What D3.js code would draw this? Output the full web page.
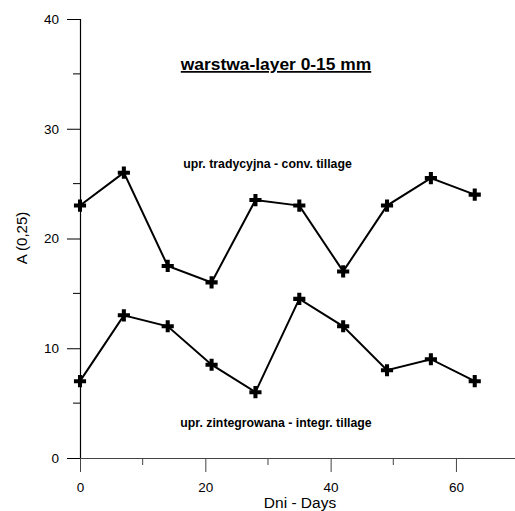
<!DOCTYPE html>
<html lang="en">
<head>
<meta charset="UTF-8">
<title>warstwa-layer 0-15 mm</title>
<script src="https://d3js.org/d3.v7.min.js"></script>
<style>
    body { margin: 0; background: #fff; }
    svg text { font-family: "Liberation Sans", Arial, sans-serif; fill: #000; }
</style>
</head>
<body>
<svg width="515" height="511"></svg>
<script>
// days of sampling
const days = [0, 7, 14, 21, 28, 35, 42, 49, 56, 63];
// upr. tradycyjna - conv. tillage
const convTillage = [23, 26, 17.5, 16, 23.5, 23, 17, 23, 25.5, 24];
// upr. zintegrowana - integr. tillage
const integrTillage = [7, 13, 12, 8.5, 6, 14.5, 12, 8, 9, 7];
const xTicks = [0, 20, 40, 60];
const xMinor = [10, 30, 50];
const yTicks = [0, 10, 20, 30, 40];
const yMinor = [5, 15, 25, 35];

const svg = d3.select('svg');

const x = d3.scaleLinear().domain([0, 70]).range([80, 518.6]);
const y = d3.scaleLinear().domain([0, 40]).range([458, 19]);

// y axis
const yAxis = svg.append('g').attr('transform', 'translate(80,0)');
yAxis.call(d3.axisLeft(y).tickValues(yTicks).tickSize(13).tickPadding(8).tickFormat(d3.format('d')));
yAxis.select('.domain').attr('stroke', '#000').attr('stroke-width', 1.2);
yAxis.selectAll('.tick line').attr('stroke', '#000');
yAxis.selectAll('.tick text').style('font-size', '13.5px').attr('fill', '#000');
yAxis.selectAll('line.minor')
    .data(yMinor)
    .enter().append('line')
    .attr('class', 'minor')
    .attr('x1', -7).attr('x2', 0)
    .attr('y1', d => y(d)).attr('y2', d => y(d))
    .attr('stroke', '#000');

// x axis
const xAxis = svg.append('g').attr('transform', 'translate(0,458)');
xAxis.call(d3.axisBottom(x).tickValues(xTicks).tickSize(14).tickPadding(10).tickSizeOuter(0).tickFormat(d3.format('d')));
xAxis.select('.domain').attr('stroke', '#444');
xAxis.selectAll('.tick line').attr('stroke', '#444');
xAxis.selectAll('.tick text').style('font-size', '13.5px').attr('fill', '#000');
xAxis.selectAll('line.minor')
    .data(xMinor)
    .enter().append('line')
    .attr('class', 'minor')
    .attr('x1', d => x(d)).attr('x2', d => x(d))
    .attr('y1', 0).attr('y2', 7)
    .attr('stroke', '#444');

// axis titles
svg.append('text')
    .attr('x', 300).attr('y', 508)
    .attr('text-anchor', 'middle')
    .style('font-size', '15.5px')
    .text('Dni - Days');

svg.append('text')
    .attr('transform', 'translate(27,238) rotate(-90)')
    .attr('text-anchor', 'middle')
    .style('font-size', '15px')
    .text('A (0,25)');

// lines and markers
const line = d3.line()
    .x(d => x(d[0]))
    .y(d => y(d[1]));

const plus = d3.symbol().type(d3.symbolCross).size(82);

[convTillage, integrTillage].forEach(vals => {
    const pts = days.map((d, i) => [d, vals[i]]);
    svg.append('path')
        .datum(pts)
        .attr('d', line)
        .attr('fill', 'none')
        .attr('stroke', '#000')
        .attr('stroke-width', 2);
    svg.append('g')
        .selectAll('path')
        .data(pts)
        .enter().append('path')
        .attr('transform', d => `translate(${x(d[0])},${y(d[1])})`)
        .attr('d', plus)
        .attr('fill', '#000');
});

// labels
svg.append('text')
    .attr('x', 276).attr('y', 70)
    .attr('text-anchor', 'middle')
    .style('font-size', '17.4px')
    .style('font-weight', 'bold')
    .style('text-decoration', 'underline')
    .text('warstwa-layer 0-15 mm');

svg.append('text')
    .attr('x', 267.5).attr('y', 168)
    .attr('text-anchor', 'middle')
    .style('font-size', '12.3px')
    .style('font-weight', 'bold')
    .text('upr. tradycyjna - conv. tillage');

svg.append('text')
    .attr('x', 276).attr('y', 427)
    .attr('text-anchor', 'middle')
    .style('font-size', '12.3px')
    .style('font-weight', 'bold')
    .text('upr. zintegrowana - integr. tillage');
</script>
</body>
</html>
